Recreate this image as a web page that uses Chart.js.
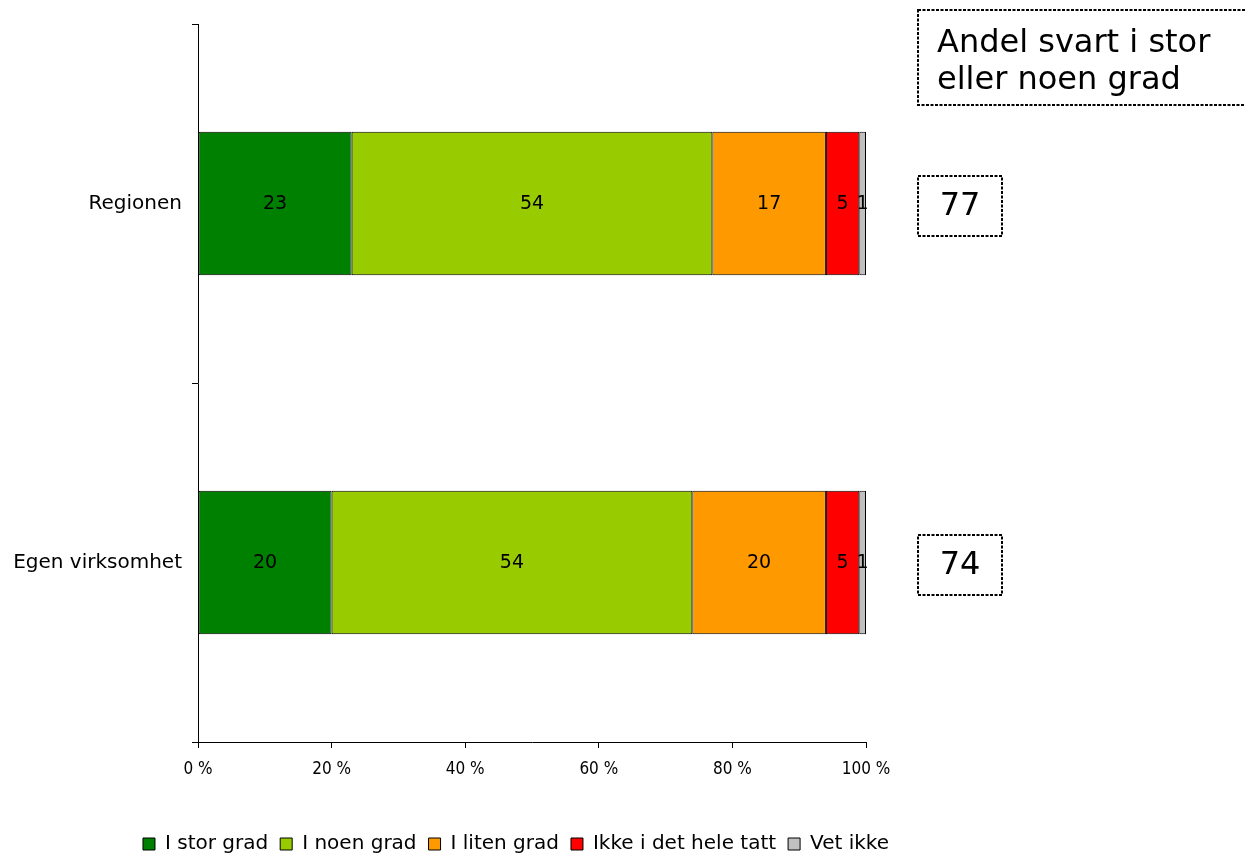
<!DOCTYPE html>
<html>
<head>
<meta charset="utf-8">
<script src="https://cdn.jsdelivr.net/npm/chart.js@4/dist/chart.umd.min.js"></script>
<style>
html,body{margin:0;padding:0;background:#fff;}
#wrap{width:1245px;height:857px;position:relative;}
</style>
</head>
<body>
<div id="wrap"><canvas id="c" width="1245" height="857"></canvas></div>
<script>
const categories = ["Regionen", "Egen virksomhet"];
const seriesNames = ["I stor grad", "I noen grad", "I liten grad", "Ikke i det hele tatt", "Vet ikke"];
const iStorGrad = [23, 20];
const iNoenGrad = [54, 54];
const iLitenGrad = [17, 20];
const ikkeIDetHeleTatt = [5, 5];
const vetIkke = [1, 1];
const andelStorEllerNoen = [77, 74];
const boxTitle = ["Andel svart i stor", "eller noen grad"];
const xTicks = [0, 20, 40, 60, 80, 100];
const colors = ["#008000", "#99CC00", "#FF9900", "#FF0000", "#C0C0C0"];

const seriesValues = [iStorGrad, iNoenGrad, iLitenGrad, ikkeIDetHeleTatt, vetIkke];
const datasets = seriesValues.map((vals, i) => ({
  label: seriesNames[i],
  data: vals,
  backgroundColor: colors[i],
  borderColor: "#000",
  borderWidth: 1,
  borderSkipped: false,
  categoryPercentage: 1,
  barPercentage: 0.4
}));

const MAIN_FONT = "'DejaVu Sans', Verdana, sans-serif";
const COND_FONT = "'DejaVu Sans Condensed', 'DejaVu Sans', sans-serif";

const valueLabels = {
  id: "valueLabels",
  afterDatasetsDraw(chart) {
    const ctx = chart.ctx;
    ctx.save();
    ctx.font = "19px " + MAIN_FONT;
    ctx.fillStyle = "#000";
    ctx.textAlign = "center";
    ctx.textBaseline = "middle";
    chart.data.datasets.forEach((ds, di) => {
      const meta = chart.getDatasetMeta(di);
      meta.data.forEach((bar, j) => {
        const left = Math.min(bar.x, bar.base), right = Math.max(bar.x, bar.base);
        ctx.fillText(String(ds.data[j]), (left + right) / 2, bar.y + 1);
      });
    });
    ctx.restore();
  }
};

const sideBoxes = {
  id: "sideBoxes",
  afterDraw(chart) {
    const ctx = chart.ctx;
    const yScale = chart.scales.y;
    const area = chart.chartArea;
    ctx.save();
    ctx.strokeStyle = "#000";
    ctx.lineWidth = 2;
    ctx.setLineDash([3, 1.5]);
    const bx = Math.round(area.right) + 52;
    ctx.strokeRect(bx, 10, 345, 95);
    ctx.setLineDash([]);
    ctx.fillStyle = "#000";
    ctx.font = "32px " + MAIN_FONT;
    ctx.textAlign = "left";
    ctx.textBaseline = "alphabetic";
    ctx.fillText(boxTitle[0], bx + 19, 52);
    ctx.fillText(boxTitle[1], bx + 19, 89);
    categories.forEach((c, i) => {
      const cy = Math.round(yScale.getPixelForValue(i)) + 2;
      ctx.setLineDash([3, 1.5]);
      ctx.strokeRect(bx, cy - 30, 84, 60);
      ctx.setLineDash([]);
      ctx.textAlign = "center";
      ctx.textBaseline = "middle";
      ctx.fillText(String(andelStorEllerNoen[i]), bx + 42, cy + 1);
    });
    ctx.restore();
  }
};

new Chart(document.getElementById("c"), {
  type: "bar",
  data: { labels: categories, datasets },
  plugins: [valueLabels, sideBoxes],
  options: {
    indexAxis: "y",
    responsive: false,
    animation: false,
    layout: { padding: { left: 0, right: 213, top: 24, bottom: -7 } },
    scales: {
      x: {
        stacked: true,
        min: 0,
        max: 100,
        afterBuildTicks(scale) { scale.ticks = xTicks.map(v => ({ value: v })); },
        afterFit(scale) { scale.height = 80; },
        grid: { drawOnChartArea: false, tickLength: 6, color: "#000", tickColor: "#000" },
        border: { display: true, color: "#000", width: 1 },
        ticks: {
          color: "#000",
          font: { family: COND_FONT, size: 17 },
          padding: 11,
          maxRotation: 0,
          callback: v => v + " %"
        }
      },
      y: {
        stacked: true,
        afterFit(scale) { scale.width = 198; },
        grid: { drawOnChartArea: false, tickLength: 6, color: "#000", tickColor: "#000", offset: true },
        border: { display: true, color: "#000", width: 1 },
        ticks: {
          color: "#000",
          font: { family: MAIN_FONT, size: 20 },
          padding: 10
        }
      },
      yRight: {
        type: "category",
        position: "right",
        afterFit(scale) { scale.width = 166; },
        grid: { display: false },
        border: { display: false },
        ticks: { display: false }
      }
    },
    plugins: {
      legend: {
        position: "bottom",
        labels: {
          color: "#000",
          boxWidth: 12,
          boxHeight: 12,
          padding: 12,
          font: { family: MAIN_FONT, size: 20 }
        }
      },
      tooltip: { enabled: false }
    }
  }
});
</script>
</body>
</html>
